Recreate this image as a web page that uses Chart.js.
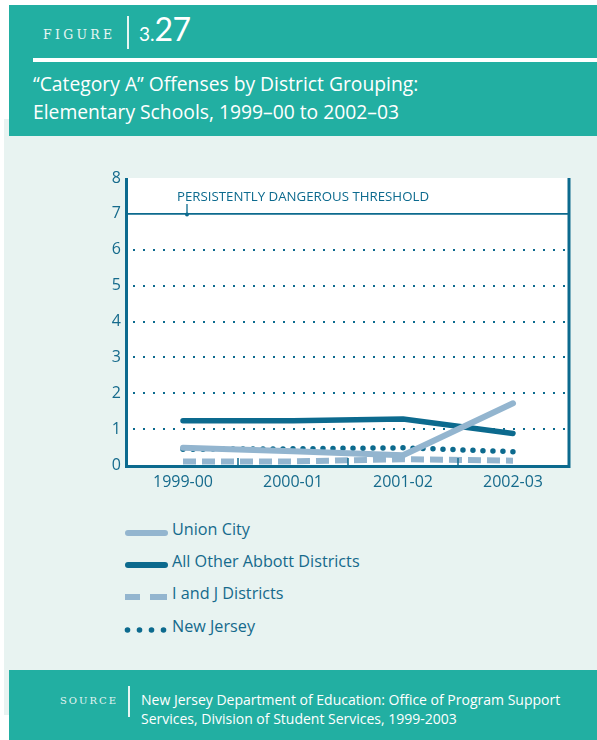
<!DOCTYPE html>
<html>
<head>
<meta charset="utf-8">
<script src="https://cdn.jsdelivr.net/npm/chart.js@4.4.1/dist/chart.umd.min.js"></script>
<style>
  html, body { margin:0; padding:0; background:#ffffff; }
  body { width:597px; height:740px; position:relative; overflow:hidden; font-family:"Open Sans", "Noto Sans", sans-serif; }
  .lightbg { position:absolute; left:4px; top:119px; width:593px; height:596px; background:#e8f3f1; }
  .head { position:absolute; left:9px; top:5px; width:588px; height:131px; background:#22afa2; }
  .foot { position:absolute; left:9px; top:670px; width:588px; height:70px; background:#22afa2; }
  .fig { position:absolute; left:43px; top:27px; font-family:"DejaVu Serif", "Liberation Serif", serif; font-size:12.5px; letter-spacing:3.3px; color:#e6f5f2; }
  .sep1 { position:absolute; left:127px; top:16px; width:1.5px; height:33px; background:#e6f5f2; }
  .num { position:absolute; left:139px; top:9px; color:#ffffff; white-space:nowrap; font-family:Lato, "Open Sans", sans-serif; }
  .num .a { font-size:19px; }
  .num .b { font-size:32px; letter-spacing:-0.5px; }
  .rule { position:absolute; left:33px; top:58px; width:564px; height:4px; background:#ffffff; }
  .title { position:absolute; left:33px; top:70px; font-size:19.3px; line-height:28px; color:#ffffff; white-space:nowrap; }
  .src { position:absolute; left:60px; top:695px; font-family:"DejaVu Serif", "Liberation Serif", serif; font-size:10px; letter-spacing:2px; color:#e6f5f2; }
  .sep2 { position:absolute; left:128px; top:686px; width:1.5px; height:31px; background:#e6f5f2; }
  .srctext { position:absolute; left:141px; top:690px; font-size:14px; line-height:19px; color:#ffffff; white-space:nowrap; }
  .chartbox { position:absolute; left:0; top:161px; width:597px; height:345px; }
  .legend { position:absolute; left:124px; top:518px; }
  .row { position:absolute; left:0; height:30px; width:300px; }
  .row svg { position:absolute; left:0; top:9px; }
  .row span { position:absolute; left:48px; top:0px; font-size:16.2px; color:#156a8c; white-space:nowrap; }
</style>
</head>
<body>
<div class="lightbg"></div>
<div class="head"></div>
<div class="foot"></div>
<div class="fig">FIGURE</div>
<div class="sep1"></div>
<div class="num"><span class="a">3.</span><span class="b">27</span></div>
<div class="rule"></div>
<div class="title">“Category A” Offenses by District Grouping:<br>Elementary Schools, 1999–00 to 2002–03</div>
<div class="src">SOURCE</div>
<div class="sep2"></div>
<div class="srctext">New Jersey Department of Education: Office of Program Support<br>Services, Division of Student Services, 1999-2003</div>
<div class="chartbox"><canvas id="c" width="597" height="345"></canvas></div>
<div class="legend">
  <div class="row" style="top:0px"><svg width="46" height="12"><line x1="4" y1="6" x2="41" y2="6" stroke="#93b5cf" stroke-width="6" stroke-linecap="round"/></svg><span>Union City</span></div>
  <div class="row" style="top:32px"><svg width="46" height="12"><line x1="4" y1="6" x2="41" y2="6" stroke="#0c6a8e" stroke-width="6" stroke-linecap="round"/></svg><span>All Other Abbott Districts</span></div>
  <div class="row" style="top:64px"><svg width="46" height="12"><line x1="1" y1="6" x2="16" y2="6" stroke="#93b5cf" stroke-width="6"/><line x1="26" y1="6" x2="43" y2="6" stroke="#93b5cf" stroke-width="6"/></svg><span>I and J Districts</span></div>
  <div class="row" style="top:97px"><svg width="46" height="12"><circle cx="3.5" cy="6" r="2.8" fill="#0c6a8e"/><circle cx="15.5" cy="6" r="2.8" fill="#0c6a8e"/><circle cx="27.5" cy="6" r="2.8" fill="#0c6a8e"/><circle cx="39.5" cy="6" r="2.8" fill="#0c6a8e"/></svg><span>New Jersey</span></div>
</div>
<script>
const categories = ["1999-00", "2000-01", "2001-02", "2002-03"];
const unionCity = [0.48, 0.38, 0.27, 1.72];
const otherAbbott = [1.23, 1.23, 1.28, 0.88];
const iAndJ = [0.10, 0.10, 0.16, 0.12];
const newJersey = [0.44, 0.45, 0.48, 0.37];
const yTicks = [0, 1, 2, 3, 4, 5, 6, 7, 8];
const threshold = 7;
const thresholdLabel = "PERSISTENTLY DANGEROUS THRESHOLD";

const DARK = "#0c6a8e";
const LIGHT = "#93b5cf";
const TEXT = "#156a8c";

const framePlugin = {
  id: "frame",
  beforeDraw(chart) {
    const { ctx, chartArea: a, scales } = chart;
    ctx.save();
    ctx.fillStyle = "#ffffff";
    ctx.fillRect(a.left, a.top, a.right - a.left, a.bottom - a.top);
    // dotted gridlines
    ctx.strokeStyle = DARK;
    ctx.lineWidth = 2;
    ctx.setLineDash([2, 8]);
    yTicks.forEach(v => {
      if (v === 0 || v === 8 || v === threshold) return;
      const y = Math.round(scales.y.getPixelForValue(v));
      ctx.beginPath();
      ctx.moveTo(a.left + 5, y);
      ctx.lineTo(a.right, y);
      ctx.stroke();
    });
    ctx.setLineDash([]);
    // threshold line
    const ty = scales.y.getPixelForValue(threshold);
    ctx.lineWidth = 1.6;
    ctx.beginPath();
    ctx.moveTo(a.left, ty);
    ctx.lineTo(a.right, ty);
    ctx.stroke();
    // label + pointer
    ctx.fillStyle = DARK;
    ctx.font = "13.3px 'Open Sans', sans-serif";
    ctx.textBaseline = "middle";
    ctx.textAlign = "left";
    ctx.fillText(thresholdLabel, a.left + 49, ty - 17, 252);
    const px = a.left + 59;
    ctx.lineWidth = 1.3;
    ctx.beginPath();
    ctx.moveTo(px, ty - 10);
    ctx.lineTo(px, ty);
    ctx.stroke();
    ctx.beginPath();
    ctx.arc(px, ty + 0.5, 2, 0, Math.PI * 2);
    ctx.fill();
    ctx.restore();
  },
  afterDraw(chart) {
    const { ctx, chartArea: a, scales } = chart;
    ctx.save();
    ctx.strokeStyle = DARK;
    ctx.lineWidth = 3;
    ctx.beginPath();
    ctx.moveTo(a.left - 1.5, a.top);
    ctx.lineTo(a.left - 1.5, a.bottom + 3);
    ctx.moveTo(a.right + 1, a.top);
    ctx.lineTo(a.right + 1, a.bottom + 3);
    ctx.moveTo(a.left - 3, a.bottom + 1.5);
    ctx.lineTo(a.right + 2.5, a.bottom + 1.5);
    ctx.stroke();
    // tick marks between categories
    ctx.lineWidth = 1.5;
    for (let i = 0; i < categories.length - 1; i++) {
      const x = (scales.x.getPixelForValue(i) + scales.x.getPixelForValue(i + 1)) / 2;
      ctx.beginPath();
      ctx.moveTo(x, a.bottom);
      ctx.lineTo(x, a.bottom - 7);
      ctx.stroke();
    }
    ctx.restore();
  }
};

new Chart(document.getElementById("c"), {
  type: "line",
  data: {
    labels: categories,
    datasets: [
      { label: "Union City", data: unionCity, borderColor: LIGHT, borderWidth: 6, borderCapStyle: "round", borderJoinStyle: "round" },
      { label: "All Other Abbott Districts", data: otherAbbott, borderColor: DARK, borderWidth: 5.5, borderCapStyle: "round", borderJoinStyle: "round" },
      { label: "I and J Districts", data: iAndJ, borderColor: LIGHT, borderWidth: 6, borderDash: [13, 6], borderCapStyle: "butt" },
      { label: "New Jersey", data: newJersey, borderColor: DARK, borderWidth: 5.5, borderDash: [0, 10], borderCapStyle: "round" }
    ]
  },
  options: {
    responsive: false,
    animation: false,
    events: [],
    layout: { padding: { top: 17, right: 29, left: 0, bottom: 0 } },
    elements: { point: { radius: 0 }, line: { tension: 0, fill: false } },
    plugins: { legend: { display: false }, tooltip: { enabled: false } },
    scales: {
      x: {
        offset: true,
        grid: { display: false },
        border: { display: false },
        ticks: { color: TEXT, font: { family: "'Open Sans', sans-serif", size: 16 }, padding: 0, maxRotation: 0 },
        afterFit(s) { s.height = 41; }
      },
      y: {
        min: 0, max: 8,
        afterBuildTicks(s) { s.ticks = yTicks.map(v => ({ value: v })); },
        grid: { display: false, drawTicks: false },
        border: { display: false },
        ticks: { color: TEXT, font: { family: "'Open Sans', sans-serif", size: 16 }, padding: 7 },
        afterFit(s) { s.width = 128; }
      }
    }
  },
  plugins: [framePlugin]
});
</script>
</body>
</html>
